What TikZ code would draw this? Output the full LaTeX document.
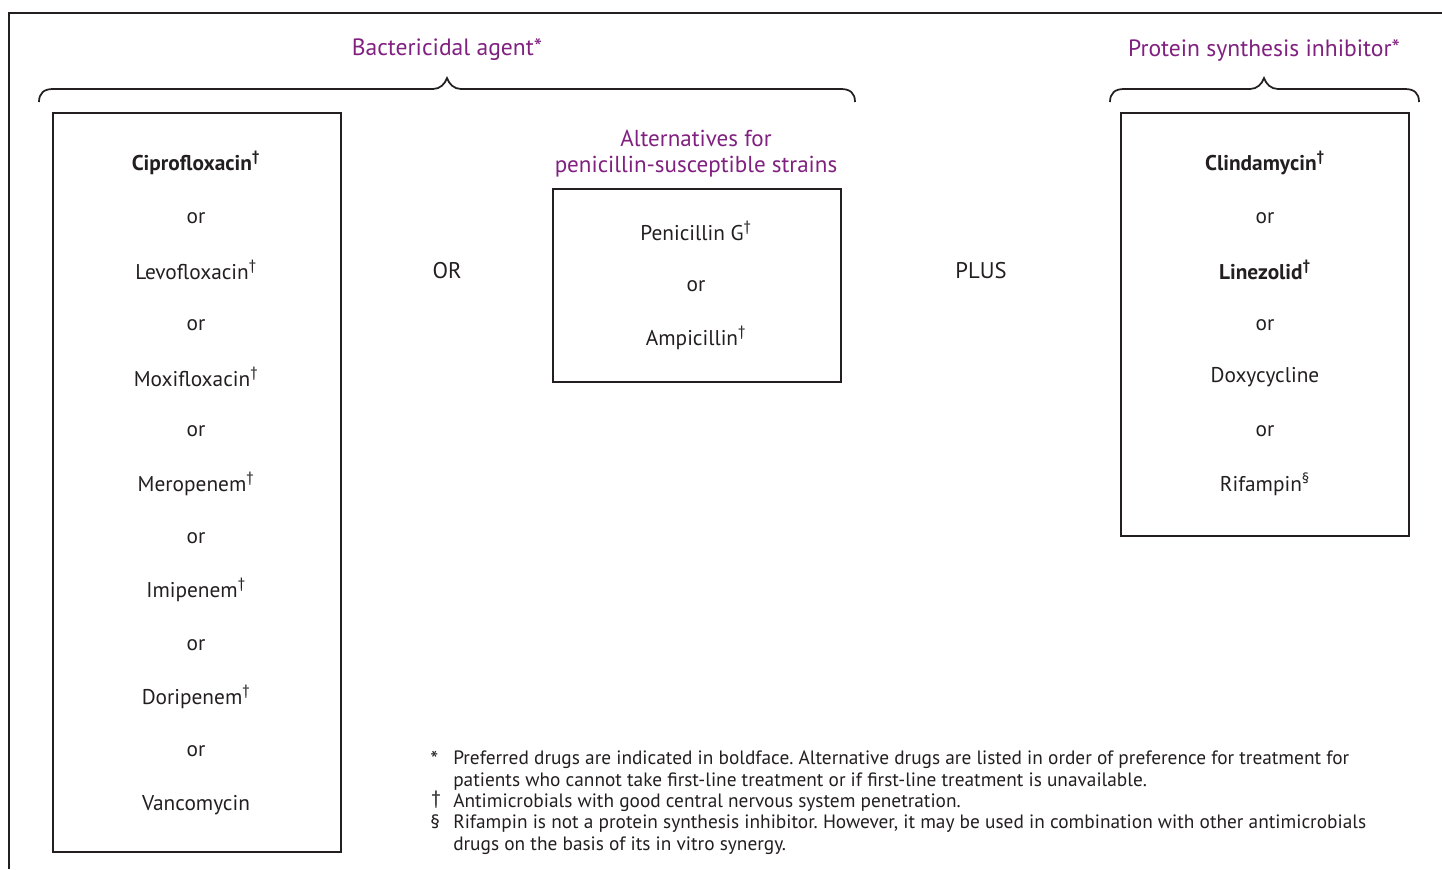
\documentclass[tikz,border=0pt]{standalone}
\usepackage{fontspec}
\setmainfont{PT Sans}
\frenchspacing
\definecolor{titlepurple}{RGB}{128,32,128}
\definecolor{ink}{RGB}{35,31,32}
\begin{document}
\begin{tikzpicture}[x=0.75pt,y=-0.75pt,
  every node/.style={inner sep=0pt,text=ink},
  drug/.style={font=\fontsize{16}{19}\selectfont},
  drugb/.style={font=\fontsize{16}{19}\selectfont\bfseries},
  ttl/.style={font=\fontsize{17.7}{21}\selectfont,text=titlepurple,align=center},
  subttl/.style={font=\fontsize{17.3}{20.5}\selectfont,text=titlepurple,align=center},
  conj/.style={font=\fontsize{17}{20}\selectfont},
  fn/.style={font=\fontsize{14.5}{17}\selectfont,anchor=base west},
  boxline/.style={draw=ink,line width=2pt},
  brace/.style={draw=ink,line width=1.3pt},
  frameline/.style={draw=ink,line width=2pt}]
\useasboundingbox (0,0) rectangle (1442,869);
% frame
\draw[frameline] (9,869) -- (9,13) -- (1442,13);
% braces
\draw[brace] (39,102) .. controls (39,93) and (44,89) .. (53,89) -- (433,89)
  .. controls (440,89) and (445,84) .. (447,78) .. controls (449,84) and (454,89) .. (461,89)
  -- (841,89) .. controls (850,89) and (855,93) .. (855,102);
\draw[brace] (1110,102) .. controls (1110,93) and (1115,89) .. (1124,89) -- (1250,89)
  .. controls (1257,89) and (1262,84) .. (1264,78) .. controls (1266,84) and (1271,89) .. (1278,89)
  -- (1405,89) .. controls (1414,89) and (1419,93) .. (1419,102);
% titles
\node[ttl] (t1) at (447,50) {Bactericidal agent*};
\node[ttl] (t2) at (1264,50) {Protein synthesis inhibitor*};
\node[subttl] (t3) at (696,154) {Alternatives for\\[-1pt]penicillin-susceptible strains};
% boxes
\draw[boxline] (53,113) rectangle (341,852);
\draw[boxline] (553,189) rectangle (841,382);
\draw[boxline] (1121,113) rectangle (1409,536);
% left box items
\node[drugb] (a1) at (196,163) {Ciprofloxacin\textsuperscript{†}};
\node[drug] (a2) at (196,218) {or};
\node[drug] (a3) at (196,270) {Levofloxacin\textsuperscript{†}};
\node[drug] (a4) at (196,325) {or};
\node[drug] (a5) at (196,377) {Moxifloxacin\textsuperscript{†}};
\node[drug] (a6) at (196,431) {or};
\node[drug] (a7) at (196,484) {Meropenem\textsuperscript{†}};
\node[drug] (a8) at (196,538) {or};
\node[drug] (a9) at (196,590) {Imipenem\textsuperscript{†}};
\node[drug] (a10) at (196,645) {or};
\node[drug] (a11) at (196,697) {Doripenem\textsuperscript{†}};
\node[drug] (a12) at (196,751) {or};
\node[drug] (a13) at (196,805) {Vancomycin};
% middle box
\node[drug] (b1) at (696,231) {Penicillin G\textsuperscript{†}};
\node[drug] (b2) at (696,286) {or};
\node[drug] (b3) at (696,338) {Ampicillin\textsuperscript{†}};
% right box
\node[drugb] (c1) at (1265,163) {Clindamycin\textsuperscript{†}};
\node[drug] (c2) at (1265,218) {or};
\node[drugb] (c3) at (1265,270) {Linezolid\textsuperscript{†}};
\node[drug] (c4) at (1265,325) {or};
\node[drug] (c5) at (1265,377) {Doxycycline};
\node[drug] (c6) at (1265,431) {or};
\node[drug] (c7) at (1265,484) {Rifampin\textsuperscript{§}};
% conjunctions
\node[conj] (or) at (447,271) {OR};
\node[conj] (plus) at (981,271) {PLUS};
% footnotes
\node[fn,font=\fontsize{17}{17}\selectfont] (f1s) at (430,767) {*};
\node[fn] (f1) at (453,764) {Preferred drugs are indicated in boldface. Alternative drugs are listed in order of preference for treatment for};
\node[fn] (f1b) at (453,786) {patients who cannot take first-line treatment or if first-line treatment is unavailable.};
\node[fn] (f2s) at (431,804) {†};
\node[fn] (f2) at (453,807) {Antimicrobials with good central nervous system penetration.};
\node[fn] (f3s) at (430,828) {§};
\node[fn] (f3) at (453,828) {Rifampin is not a protein synthesis inhibitor. However, it may be used in combination with other antimicrobials};
\node[fn] (f3b) at (453,850) {drugs on the basis of its in vitro synergy.};
\end{tikzpicture}
\end{document}
